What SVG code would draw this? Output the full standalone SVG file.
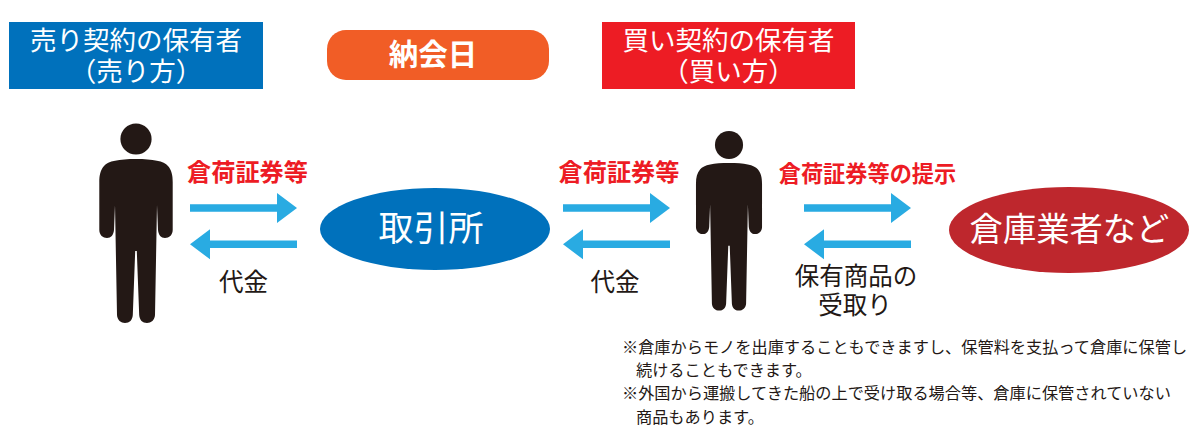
<svg xmlns="http://www.w3.org/2000/svg" width="1200" height="447" viewBox="0 0 1200 447">
<style>
text{font-family:"Noto Sans CJK JP","Noto Sans",sans-serif;text-anchor:middle}
.w{fill:#fff}
.k{fill:#231815;font-size:24.500px}
.r{fill:#ed1c24;font-weight:700}
.n{fill:#231815;font-size:16.200px;text-anchor:start}
.a{fill:#29abe2}
.p{fill:#231815}
</style>
<defs>
<g id="person">
<circle cx="136" cy="139" r="15.6"/>
<path d="M136 159C153 159 164 161 168 166C171.500 170 172.700 175 172.700 182L172.700 230C172.700 235 169 238 165 238C161 238 158.500 235 158 230L157 205L155 315C154.800 320 151 323 147 323C142.500 323 139.500 320 139.200 315L136.800 251H135.200L132.800 315C132.500 320 129.500 323 125 323C121 323 117.200 320 117 315L115 205L114 230C113.500 235 111 238 107 238C103 238 99.300 235 99.300 230L99.300 182C99.300 175 100.500 170 104 166C108 161 119 159 136 159Z"/>
</g>
<path id="right" d="M0 -3.700H87V-15L107 0L87 15V3.700H0Z"/>
<path id="left" d="M107 -3.700H20V-15L0 0L20 15V3.700H107Z"/>
</defs>
<g id="seller-label">
<rect x="9" y="22" width="254" height="67" fill="#0071bc"/>
<text class="w" x="136" y="50" font-size="26.500">売り契約の保有者</text>
<text class="w" x="136" y="81" font-size="26.500">（売り方）</text>
</g>
<g id="delivery-day">
<rect x="327" y="30" width="222" height="50" rx="19" fill="#f15d26"/>
<text class="w" x="433" y="65" font-size="29.500" font-weight="700">納会日</text>
</g>
<g id="buyer-label">
<rect x="602" y="22" width="253" height="67" fill="#ed1c24"/>
<text class="w" x="728.500" y="50" font-size="26.500">買い契約の保有者</text>
<text class="w" x="728.500" y="81" font-size="26.500">（買い方）</text>
</g>
<g id="seller" class="p"><use href="#person"/></g>
<g id="exchange">
<ellipse cx="435" cy="229" rx="115" ry="41" fill="#0071bc"/>
<text class="w" x="431" y="241" font-size="35">取引所</text>
</g>
<g id="buyer" class="p"><use href="#person" transform="translate(606.600 19.900) scale(.9)"/></g>
<g id="warehouse">
<ellipse cx="1069" cy="230" rx="120" ry="43" fill="#be272d"/>
<text class="w" x="1069.500" y="241" font-size="33.300">倉庫業者など</text>
</g>
<g id="connectors" class="a">
<use href="#right" x="190" y="208"/>
<use href="#left" x="190" y="244.300"/>
<use href="#right" x="563" y="208"/>
<use href="#left" x="563" y="244.300"/>
<use href="#right" x="804" y="208"/>
<use href="#left" x="804" y="244.300"/>
</g>
<g id="connector-labels">
<text class="r" x="247.500" y="181" font-size="24.200">倉荷証券等</text>
<text class="r" x="619" y="181" font-size="24.200">倉荷証券等</text>
<text class="r" x="867.500" y="182" font-size="22.200">倉荷証券等の提示</text>
<text class="k" x="243.500" y="291">代金</text>
<text class="k" x="615" y="291">代金</text>
<text class="k" x="856" y="285">保有商品の</text>
<text class="k" x="855" y="314">受取り</text>
</g>
<g id="notes">
<text class="n" x="622" y="353">※倉庫からモノを出庫することもできますし、保管料を支払って倉庫に保管し</text>
<text class="n" x="636" y="376">続けることもできます。</text>
<text class="n" x="622" y="399">※外国から運搬してきた船の上で受け取る場合等、倉庫に保管されていない</text>
<text class="n" x="636" y="423">商品もあります。</text>
</g>
</svg>
